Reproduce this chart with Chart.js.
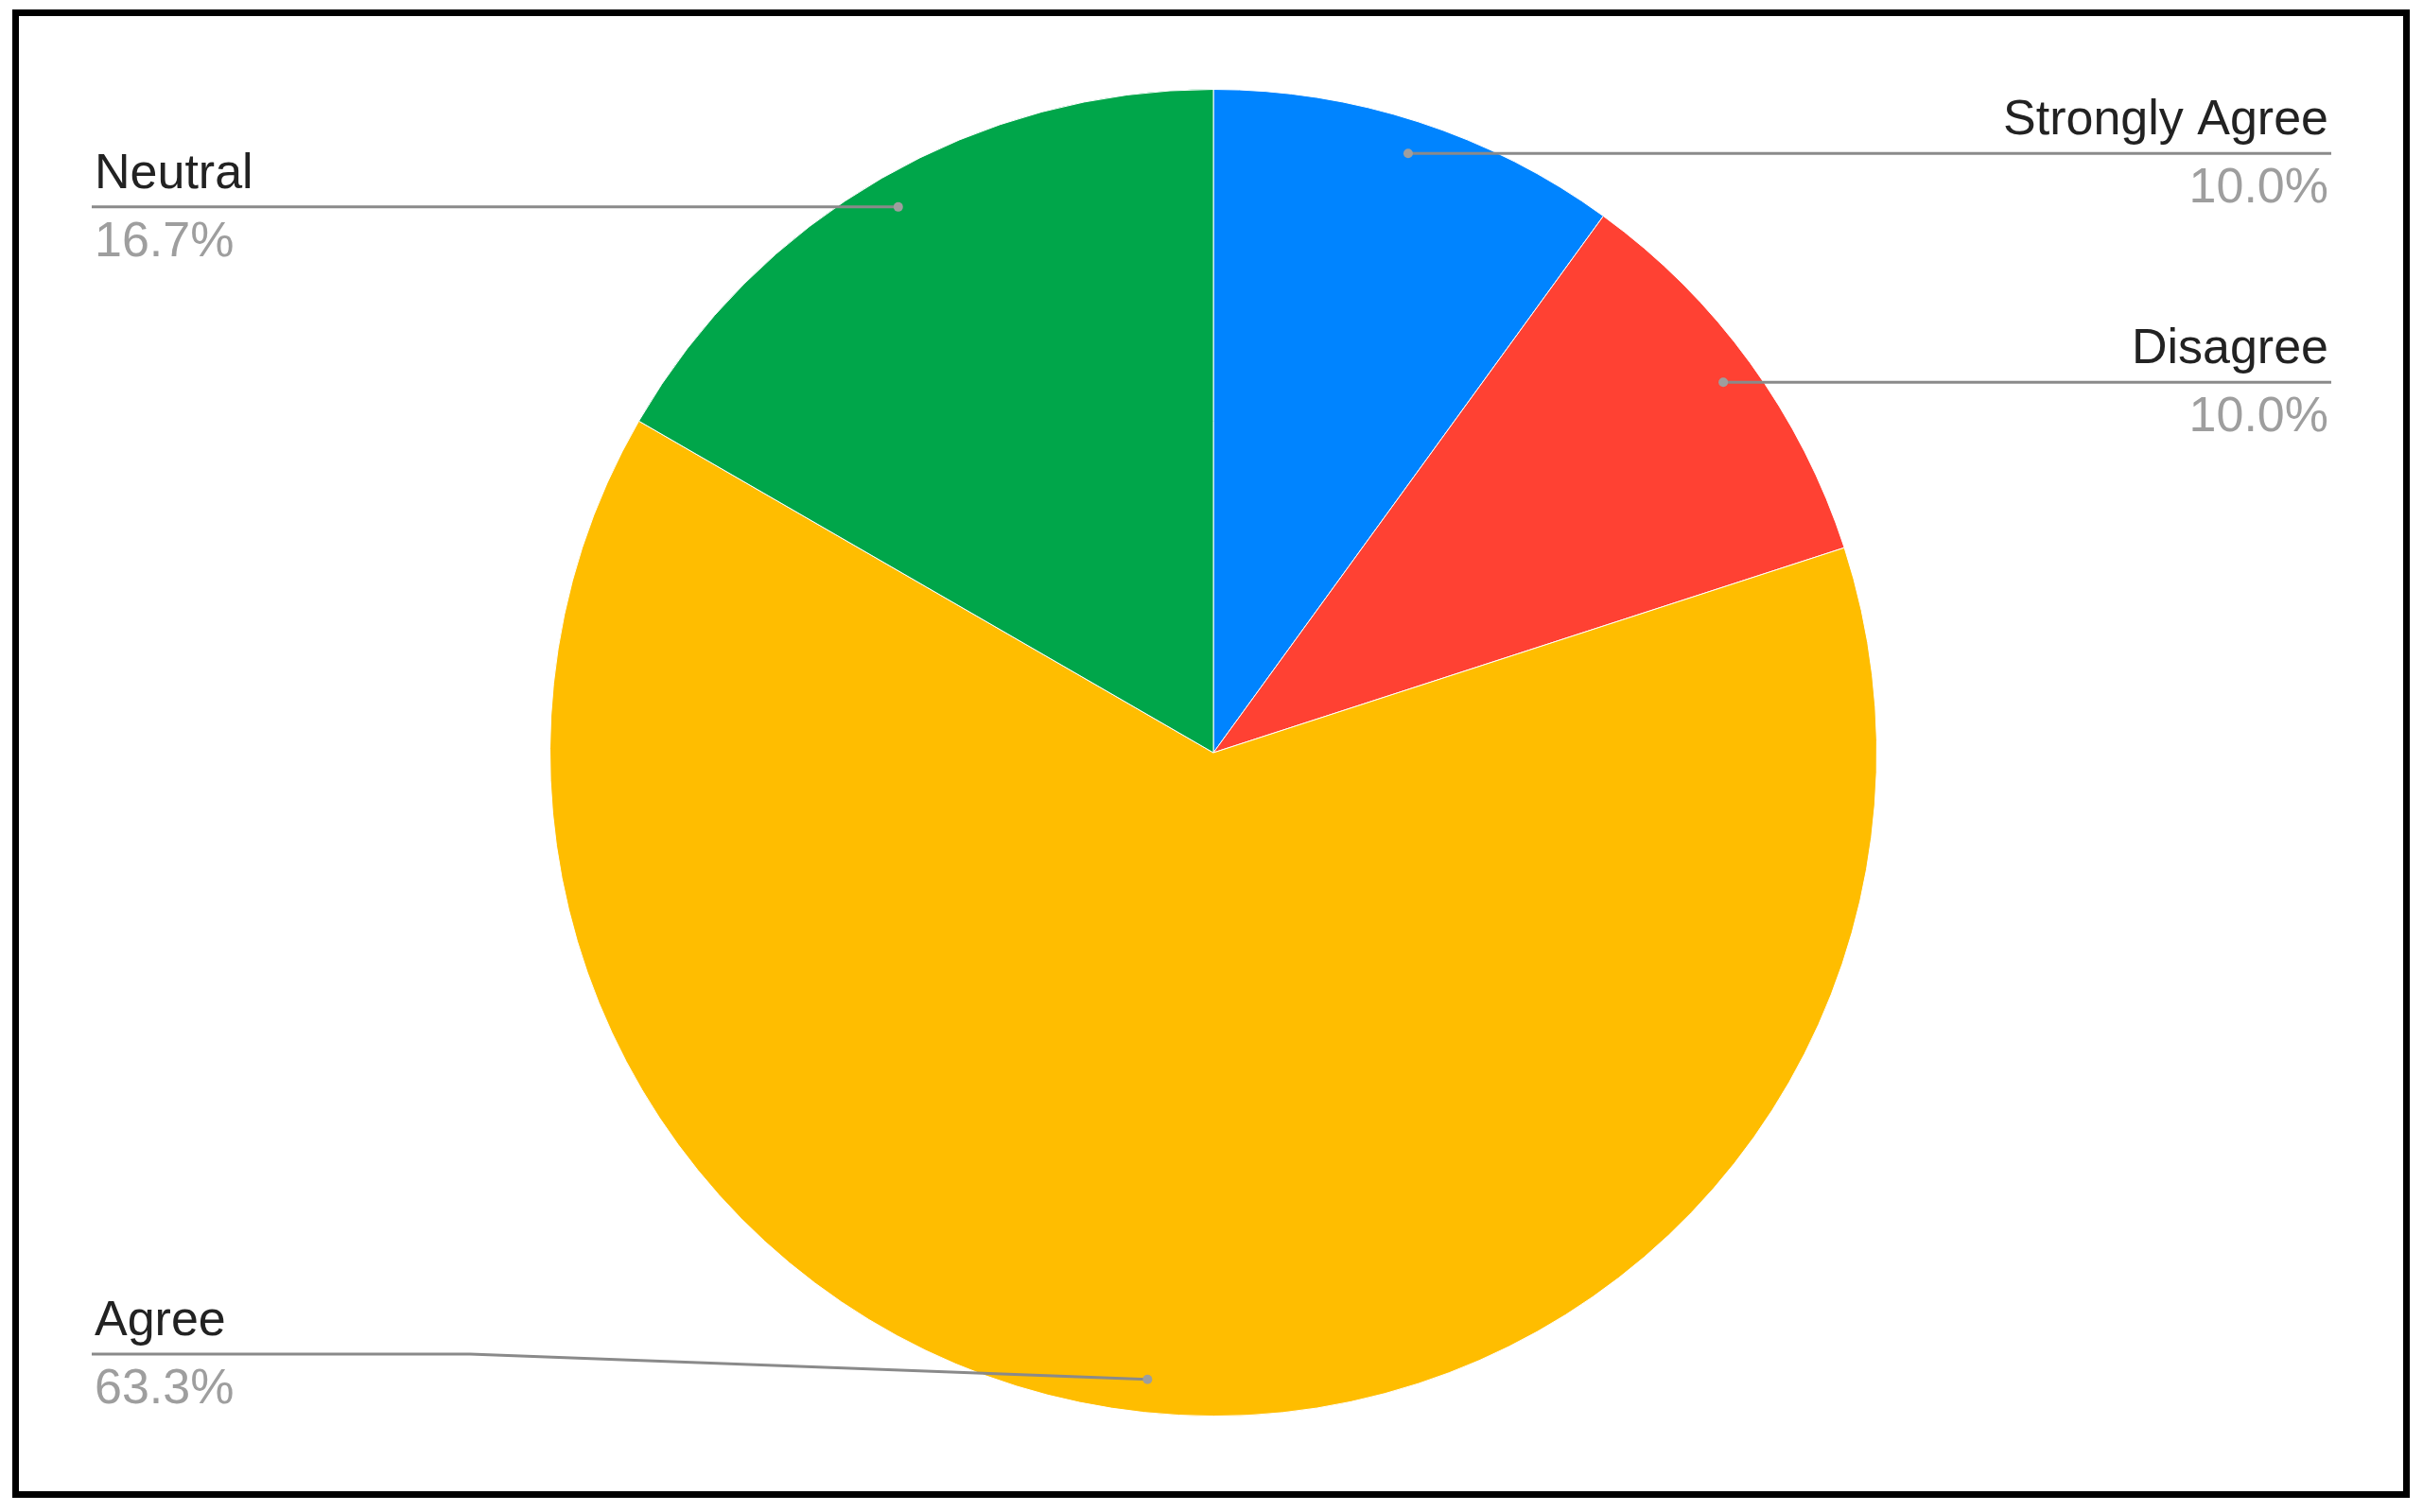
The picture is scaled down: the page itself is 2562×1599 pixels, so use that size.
<!DOCTYPE html>
<html>
<head>
<meta charset="utf-8">
<script src="https://cdn.jsdelivr.net/npm/chart.js@4"></script>
<style>
  html, body { margin: 0; padding: 0; background: #fff; }
  #frame {
    position: absolute; left: 13px; top: 10px;
    width: 2521px; height: 1560px;
    border: 7px solid #000;
  }
  #pie { position: absolute; left: 0; top: 0; }
</style>
</head>
<body>
<div id="frame"></div>
<canvas id="pie" width="2562" height="1599"></canvas>
<script>
// survey answers, clockwise from 12 o'clock
const labels = ["Strongly Agree", "Disagree", "Agree", "Neutral"];
const counts = [3, 3, 19, 5];
const colors = ["#0084ff", "#ff4133", "#ffbd00", "#00a64a"];

const total = counts.reduce((a, b) => a + b, 0);

// leader lines + labels like the sheets pie chart
const calloutPlugin = {
    id: "callouts",
    afterDatasetsDraw(chart) {
        const ctx = chart.ctx;
        const arcs = chart.getDatasetMeta(0).data;
        const leftX = 97, rightX = 2465, maxLineY = 1432;
        ctx.save();
        arcs.forEach((arc, i) => {
            const mid = (arc.startAngle + arc.endAngle) / 2;
            const r = arc.outerRadius * 0.95;
            const dx = arc.x + Math.cos(mid) * r;
            const dy = arc.y + Math.sin(mid) * r;
            const onRight = Math.cos(mid) > 0;
            const lineY = Math.min(dy, maxLineY);
            const endX = onRight ? rightX : leftX;

            ctx.strokeStyle = "#8a8a8a";
            ctx.lineWidth = 3;
            ctx.beginPath();
            ctx.moveTo(endX, lineY);
            if (lineY !== dy) {
                const bendX = onRight ? endX - 400 : endX + 400;
                ctx.lineTo(bendX, lineY);
            }
            ctx.lineTo(dx, dy);
            ctx.stroke();

            ctx.fillStyle = "#9e9e9e";
            ctx.beginPath();
            ctx.arc(dx, dy, 5, 0, Math.PI * 2);
            ctx.fill();

            const pct = (counts[i] / total * 100).toFixed(1) + "%";
            ctx.textAlign = onRight ? "right" : "left";
            ctx.textBaseline = "alphabetic";
            const tx = onRight ? endX - 3 : endX + 3;
            ctx.font = "52px 'Liberation Sans', Arial, sans-serif";
            ctx.fillStyle = "#222";
            ctx.fillText(labels[i], tx, lineY - 20);
            ctx.fillStyle = "#9e9e9e";
            ctx.fillText(pct, tx, lineY + 52);
        });
        ctx.restore();
    }
};

new Chart(document.getElementById("pie"), {
    type: "pie",
    data: {
        labels: labels,
        datasets: [{
            data: counts,
            backgroundColor: colors,
            borderColor: "#ffffff",
            borderWidth: 1
        }]
    },
    options: {
        responsive: false,
        animation: false,
        layout: { padding: { top: 94, bottom: 101, left: 581, right: 577 } },
        plugins: {
            legend: { display: false },
            tooltip: { enabled: false }
        }
    },
    plugins: [calloutPlugin]
});
</script>
</body>
</html>
